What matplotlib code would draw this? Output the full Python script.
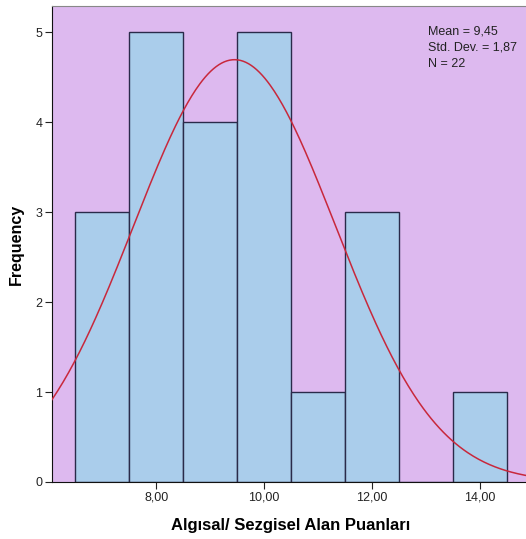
import numpy as np
import matplotlib.pyplot as plt

plt.rcParams['font.family'] = ['Liberation Sans', 'DejaVu Sans']

binCenters = [7, 8, 9, 10, 11, 12, 13, 14]
frequencies = [3, 5, 4, 5, 1, 3, 0, 1]
xTicks = [8, 10, 12, 14]
xTickLabels = ["8,00", "10,00", "12,00", "14,00"]
yTicks = [0, 1, 2, 3, 4, 5]
mean = 9.45
stdDev = 1.87
n = 22


def main():
    fig = plt.figure(figsize=(5.26, 5.39), dpi=100)
    ax = fig.add_axes([52 / 526, 1 - 482 / 539, 478 / 526, 476 / 539])
    ax.set_facecolor("#DDB9EF")

    ax.bar(binCenters, frequencies, width=1.0, color="#AACDEB", edgecolor="#2A2A4A", linewidth=1.0, zorder=2)

    xs = np.linspace(5.5, 15.5, 400)
    ys = n * 1.0 / (stdDev * np.sqrt(2 * np.pi)) * np.exp(-0.5 * ((xs - mean) / stdDev) ** 2)
    ax.plot(xs, ys, color="#C8283C", linewidth=1.1, zorder=3)

    ax.set_xlim(6.07, 6.07 + 478 / 54)
    ax.set_ylim(0, 5.29)
    ax.set_xticks(xTicks)
    ax.set_xticklabels(xTickLabels)
    ax.set_yticks(yTicks)
    ax.tick_params(axis="both", labelsize=9, color="#222222", length=5, pad=2, labelcolor="#222222")

    ax.spines["top"].set_color("#888888")
    ax.spines["left"].set_color("#111111")
    ax.spines["bottom"].set_color("#111111")
    ax.spines["right"].set_visible(False)

    fig.text(428 / 526, 1 - 25 / 539, f"Mean = 9,45\nStd. Dev. = 1,87\nN = 22", fontsize=9, va="top", ha="left",
             color="#222222", linespacing=1.5)

    ax.set_xlabel("Algısal/ Sezgisel Alan Puanları", fontsize=12, fontweight="bold", labelpad=10)
    ax.set_ylabel("Frequency", fontsize=11.5, fontweight="bold", labelpad=8)

    plt.savefig("out.png", dpi=100)


if __name__ == "__main__":
    main()
